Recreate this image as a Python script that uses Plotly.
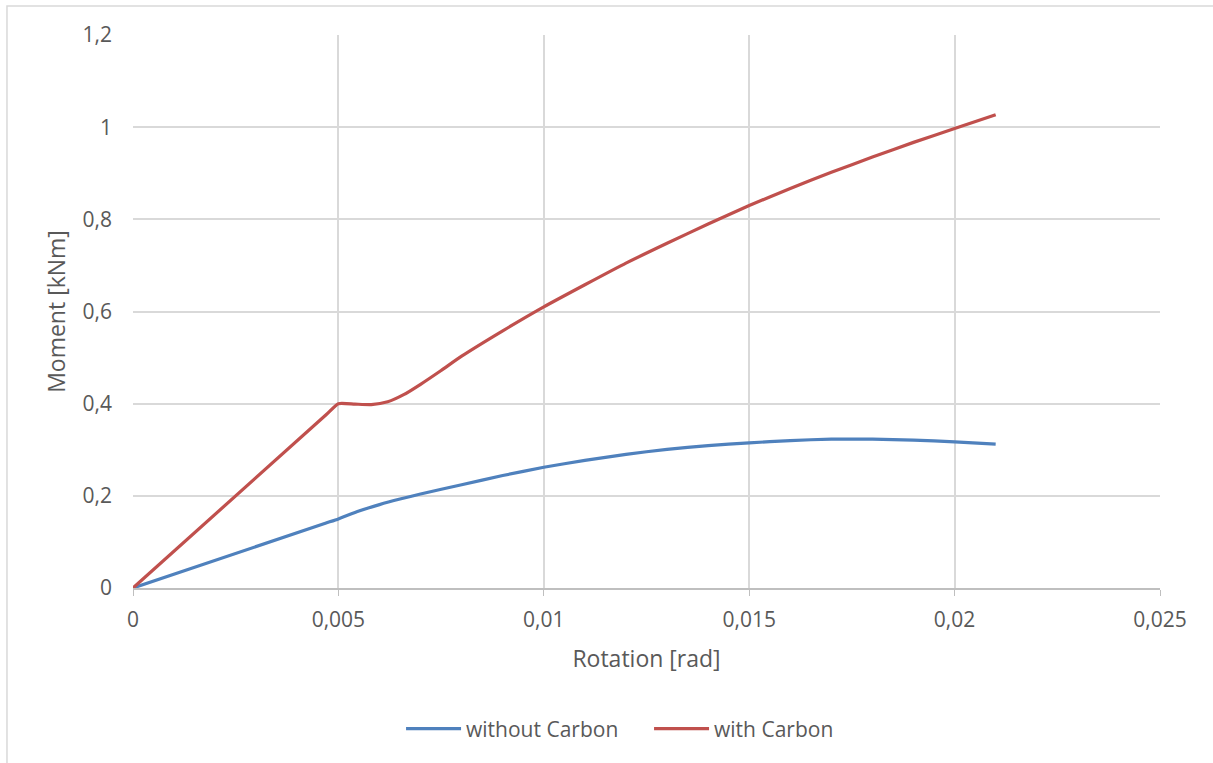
import plotly.graph_objects as go

# Moment-rotation curves
rot_without = [0, 0.0047, 0.005, 0.0055, 0.006, 0.0065, 0.007, 0.008, 0.009, 0.010, 0.011, 0.012,
               0.013, 0.014, 0.015, 0.016, 0.017, 0.018, 0.019, 0.020, 0.021]
mom_without = [0, 0.141, 0.150, 0.167, 0.181, 0.193, 0.204, 0.224, 0.244, 0.262, 0.277, 0.290,
               0.301, 0.309, 0.315, 0.320, 0.323, 0.323, 0.321, 0.317, 0.312]

rot_with = [0, 0.0047, 0.005, 0.0054, 0.0058, 0.0062, 0.0066, 0.007, 0.0075, 0.008, 0.009, 0.010,
            0.011, 0.012, 0.013, 0.014, 0.015, 0.016, 0.017, 0.018, 0.019, 0.020, 0.021]
mom_with = [0, 0.376, 0.400, 0.399, 0.398, 0.404, 0.420, 0.442, 0.472, 0.503, 0.558, 0.610,
            0.658, 0.705, 0.748, 0.790, 0.830, 0.867, 0.902, 0.935, 0.967, 0.997, 1.027]

x_ticks = [0, 0.005, 0.01, 0.015, 0.02, 0.025]
x_ticktext = ["0", "0,005", "0,01", "0,015", "0,02", "0,025"]
y_ticks = [0, 0.2, 0.4, 0.6, 0.8, 1.0, 1.2]
y_ticktext = ["0", "0,2", "0,4", "0,6", "0,8", "1", "1,2"]

FONT = "'Open Sans', sans-serif"
TXT = "#595959"

fig = go.Figure()
fig.add_trace(go.Scatter(x=rot_without, y=mom_without, mode="lines", name="without Carbon",
                         line=dict(color="#4f81bd", width=3.2, shape="spline", smoothing=0.5)))
fig.add_trace(go.Scatter(x=rot_with, y=mom_with, mode="lines", name="with Carbon",
                         line=dict(color="#c0504d", width=3.2, shape="spline", smoothing=0.5)))

fig.update_layout(
    width=1213, height=763,
    margin=dict(l=133, r=53, t=35, b=175),
    paper_bgcolor="white", plot_bgcolor="white",
    font=dict(family=FONT, color=TXT, size=21),
    separators=", ",
    showlegend=True,
    legend=dict(orientation="h", x=0.261, xanchor="left", y=-0.218, yanchor="top",
                font=dict(size=21, color=TXT), itemwidth=55,
                entrywidth=178, entrywidthmode="pixels"),
    xaxis=dict(range=[0, 0.025], tickvals=x_ticks, ticktext=x_ticktext,
               showgrid=True, gridcolor="#d9d9d9", gridwidth=1.5,
               zeroline=False, showline=True, linecolor="#bfbfbf", linewidth=1.5,
               ticks="outside", ticklen=6, tickcolor="#bfbfbf", ticklabelstandoff=6,
               title=dict(text="Rotation [rad]", font=dict(size=23, color=TXT), standoff=19),
               tickfont=dict(size=21, color=TXT)),
    yaxis=dict(range=[0, 1.2], tickvals=y_ticks, ticktext=y_ticktext,
               showgrid=True, gridcolor="#d9d9d9", gridwidth=1.5,
               zeroline=False, showline=False, ticklabelstandoff=20,
               title=dict(text="Moment [kNm]", font=dict(size=23, color=TXT), standoff=10),
               tickfont=dict(size=21, color=TXT)),
)

# Chart frame around the whole figure area
fig.add_shape(type="rect", xref="paper", yref="paper",
              x0=-0.1227, x1=1.08, y0=-0.4, y1=1.0524,
              line=dict(color="#d9d9d9", width=1.5), layer="below")

fig.write_html("out.html")
